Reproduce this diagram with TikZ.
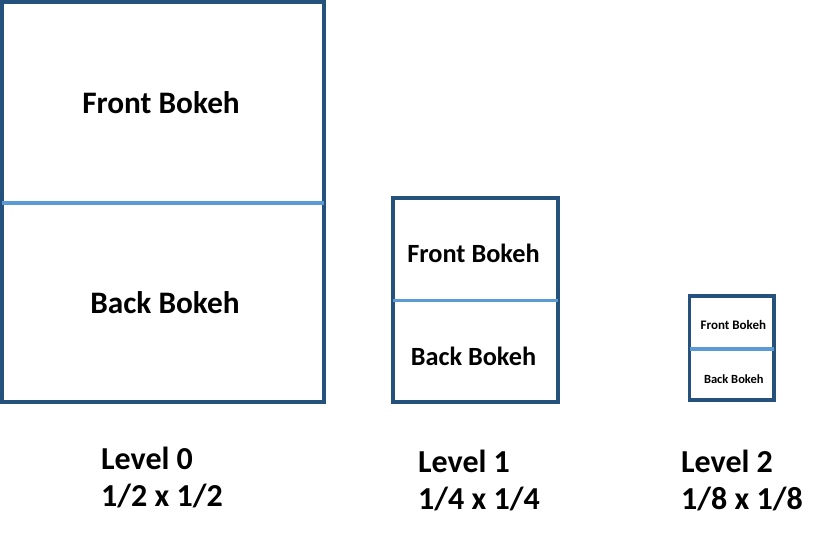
\documentclass[tikz,border=0pt]{standalone}
\usepackage{fontspec}
\setmainfont{Carlito}
\definecolor{boxblue}{HTML}{25527C}
\definecolor{lineblue}{HTML}{5B9BD5}
\begin{document}
\begin{tikzpicture}[x=1pt,y=-1pt,
  frame/.style={draw=boxblue, line width=3.6pt, rectangle, inner sep=0pt, outer sep=0pt},
  divider/.style={draw=lineblue, line width=3.4pt},
  lbl/.style={font=\bfseries, inner sep=0pt, anchor=base},
  caption/.style={font=\bfseries\fontsize{32}{36}\selectfont, inner sep=0pt, anchor=base west}]
\useasboundingbox (0,0) rectangle (829,539);
% Level 0
\node[frame, minimum width=322pt, minimum height=400pt] (b0) at (163,202) {};
\draw[divider] (b0.west |- 0,203) coordinate (d0l) -- (b0.east |- 0,203) coordinate (d0r);
\node[lbl, font=\bfseries\fontsize{31.3}{36}\selectfont] (f0) at (161,113) {Front Bokeh};
\node[lbl, font=\bfseries\fontsize{31.3}{36}\selectfont] (k0) at (165,313) {Back Bokeh};
% Level 1
\node[frame, minimum width=164.7pt, minimum height=204pt] (b1) at (475.35,300) {};
\draw[divider] (b1.west |- 0,300.7) coordinate (d1l) -- (b1.east |- 0,300.7) coordinate (d1r);
\node[lbl, font=\bfseries\fontsize{26.3}{30}\selectfont] (f1) at (473.5,262) {Front Bokeh};
\node[lbl, font=\bfseries\fontsize{26.3}{30}\selectfont] (k1) at (473.5,365) {Back Bokeh};
% Level 2
\node[frame, minimum width=84.5pt, minimum height=104pt] (b2) at (731.75,348) {};
\draw[divider] (b2.west |- 0,349) coordinate (d2l) -- (b2.east |- 0,349) coordinate (d2r);
\node[lbl, font=\bfseries\fontsize{13}{15}\selectfont] (f2) at (733.3,329.5) {Front Bokeh};
\node[lbl, font=\bfseries\fontsize{12.5}{15}\selectfont] (k2) at (733.8,383.5) {Back Bokeh};
% Captions
\node[caption] (l0) at (101,469) {Level 0};
\node[caption] (s0) at (101,506) {1/2 x 1/2};
\node[caption] (l1) at (418,472.5) {Level 1};
\node[caption] (s1) at (418,509.5) {1/4 x 1/4};
\node[caption] (l2) at (681,472.5) {Level 2};
\node[caption] (s2) at (681,509.5) {1/8 x 1/8};
\end{tikzpicture}
\end{document}
